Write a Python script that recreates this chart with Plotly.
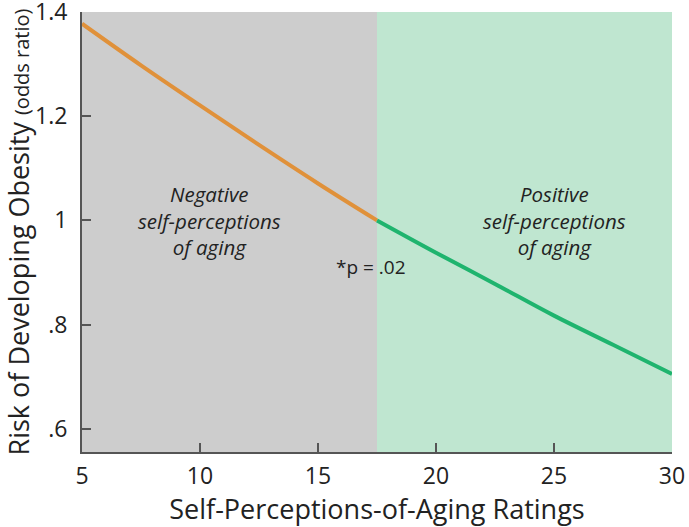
import plotly.graph_objects as go

# Data
neg_x = [5, 7.5, 10, 12.5, 15, 17.5]
neg_y = [1.378, 1.298, 1.221, 1.145, 1.071, 1.0]
pos_x = [17.5, 20, 22.5, 25, 27.5, 30]
pos_y = [1.0, 0.938, 0.878, 0.817, 0.761, 0.705]

x_ticks = [5, 10, 15, 20, 25, 30]
y_ticks = [0.6, 0.8, 1.0, 1.2, 1.4]
y_tick_text = [".6", ".8", "1", "1.2", "1.4"]

x_range = [5, 30]
y_range = [0.555, 1.4005]
split_x = 17.5

FONT = "Open Sans"

fig = go.Figure()
fig.add_trace(go.Scatter(x=neg_x, y=neg_y, mode="lines", line=dict(color="#e0913a", width=4, shape="spline"),
                         showlegend=False, hoverinfo="skip"))
fig.add_trace(go.Scatter(x=pos_x, y=pos_y, mode="lines", line=dict(color="#1fb46e", width=4, shape="spline"),
                         showlegend=False, hoverinfo="skip"))

fig.add_shape(type="rect", x0=x_range[0], x1=split_x, y0=y_range[0], y1=y_range[1],
              fillcolor="#cdcdcd", line=dict(width=0), layer="below")
fig.add_shape(type="rect", x0=split_x, x1=x_range[1], y0=y_range[0], y1=y_range[1],
              fillcolor="#bfe6d0", line=dict(width=0), layer="below")

fig.add_annotation(x=10.4, y=1.0, text="<i>Negative<br>self-perceptions<br>of aging</i>", showarrow=False,
                   font=dict(family=FONT, size=20.5, color="#222"), align="center")
fig.add_annotation(x=25.0, y=1.0, text="<i>Positive<br>self-perceptions<br>of aging</i>", showarrow=False,
                   font=dict(family=FONT, size=20.5, color="#222"), align="center")
fig.add_annotation(x=17.25, y=0.91, text="*p = .02", showarrow=False,
                   font=dict(family=FONT, size=19, color="#222"))

fig.update_layout(
    width=689, height=527,
    margin=dict(l=82, r=17, t=12, b=75),
    plot_bgcolor="white", paper_bgcolor="white",
    font=dict(family=FONT, color="#222"),
    xaxis=dict(range=x_range, tickvals=x_ticks, showgrid=False, zeroline=False, automargin=False,
               showline=True, linecolor="#555", linewidth=2, ticks="inside", ticklen=9,
               tickcolor="#555", tickwidth=1.5, tickfont=dict(size=23, family=FONT),
               ticklabelstandoff=2, ticklabeloverflow="allow",
               title=dict(text="Self-Perceptions-of-Aging Ratings", font=dict(size=27, family=FONT), standoff=6)),
    yaxis=dict(range=y_range, tickvals=y_ticks, ticktext=y_tick_text, showgrid=False, zeroline=False,
               automargin=False,
               showline=True, linecolor="#555", linewidth=2, ticks="inside", ticklen=9,
               tickcolor="#555", tickwidth=1.5, tickfont=dict(size=23, family=FONT),
               ticklabelstandoff=8, ticklabeloverflow="allow",
               title=dict(text="Risk of Developing Obesity <span style='font-size:20px'>(odds ratio)</span>",
                          font=dict(size=27, family=FONT), standoff=8)),
)

fig.write_html("out.html", config={"displayModeBar": False},
               post_script="document.body.style.margin='0';document.body.style.overflow='hidden';")
